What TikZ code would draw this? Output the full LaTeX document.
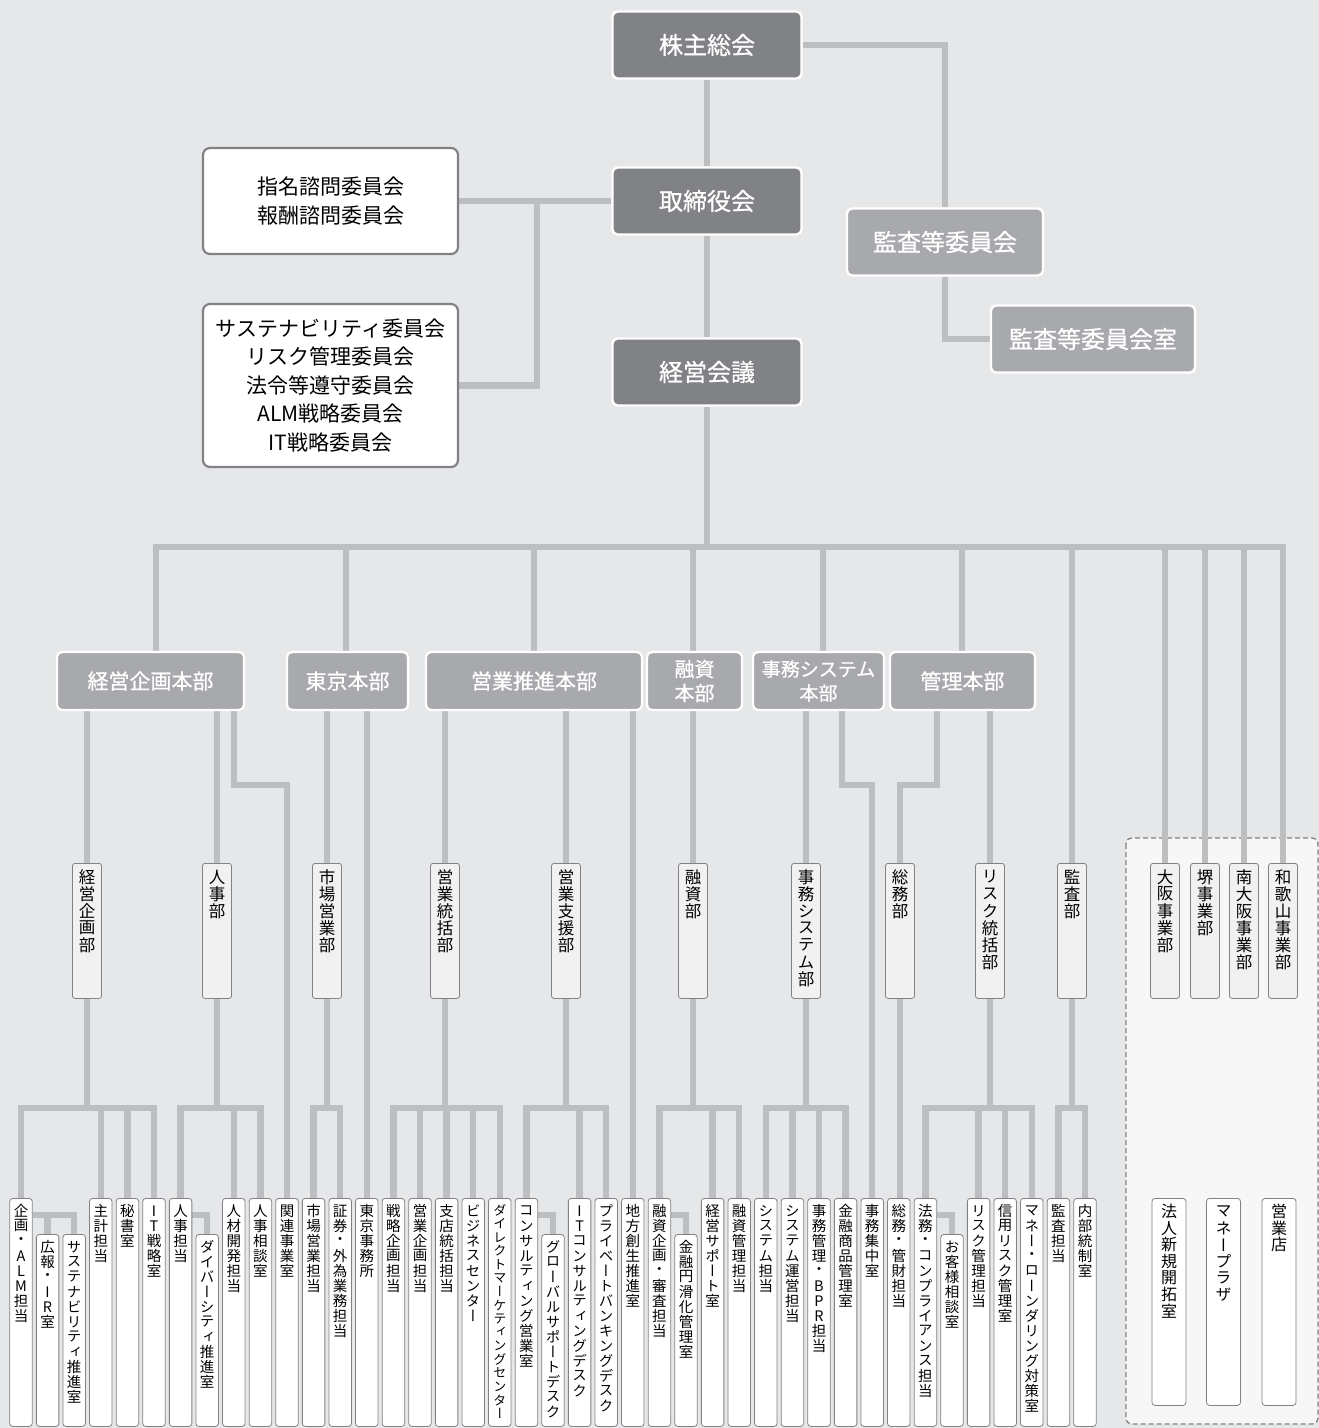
\documentclass[tikz,border=0pt]{standalone}
\usepackage{fontspec}
\setmainfont{Noto Sans CJK JP}
\newfontfamily\vfont[RawFeature=+vert]{Noto Sans CJK JP}
\newfontfamily\medfont[FakeBold=0.8]{Noto Sans CJK JP}
\usetikzlibrary{positioning, backgrounds}

\definecolor{bgcol}{HTML}{E6E7E8}
\definecolor{linecol}{HTML}{BCBEC0}
\definecolor{topcol}{HTML}{808285}
\definecolor{midcol}{HTML}{A7A9AC}
\definecolor{edgecol}{HTML}{808285}
\definecolor{deptcol}{HTML}{F1F1F2}
\definecolor{areacol}{HTML}{F7F7F7}

\newlength\vth
\makeatletter
\newcommand\vt[1]{\vbox to \vth{\offinterlineskip\vt@#1\@nil\vss}}
\def\vt@#1{\ifx#1\@nil\else\hbox to 1em{\hss\vbox to 1.035em{\vss\hbox{#1}\vss}\hss}\expandafter\vt@\fi}
\makeatother

\begin{document}
\begin{tikzpicture}[x=1pt, y=-1pt,
        conn/.style={draw=linecol, line width=6.5pt},
        boxlen/.code={\setlength\vth{#1}},
        topbox/.style={fill=topcol, draw=white, line width=2.4pt, rounded corners=5pt, text=white, minimum width=189pt, minimum height=67pt, font=\medfont\fontsize{24}{28}\selectfont},
        midbox/.style={topbox, fill=midcol},
        cmt/.style={fill=white, draw=edgecol, line width=2.2pt, rounded corners=7pt, minimum width=255pt, align=center, font=\fontsize{21}{29}\selectfont},
        hq/.style={fill=midcol, draw=white, line width=2.2pt, rounded corners=5pt, text=white, minimum height=58pt, align=center, inner sep=2pt, font=\medfont\fontsize{21}{24}\selectfont},
        dept/.style={fill=deptcol, draw=edgecol, line width=0.8pt, rounded corners=2.5pt, minimum width=29pt, inner xsep=0pt, inner ysep=5pt, anchor=north, boxlen=125pt, font=\vfont\fontsize{16.5}{17}\selectfont},
        unit/.style={fill=white, draw=edgecol, line width=0.8pt, rounded corners=3pt, minimum width=22.5pt, inner xsep=0pt, inner ysep=5pt, anchor=north, boxlen=218pt, font=\vfont\fontsize{14.5}{15}\selectfont},
        sunit/.style={unit, boxlen=182pt},
        branch/.style={unit, minimum width=34pt, boxlen=197pt, font=\vfont\fontsize{16}{17}\selectfont},
        area/.style={fill=areacol, draw=edgecol, line width=1.3pt, dash pattern=on 5pt off 3pt, rounded corners=6pt}]

        \useasboundingbox (0,0) rectangle (1319,1428);

        \node[topbox] (kabunushi) at (707,45) {株主総会};
        \node[topbox] (torishimari) at (707,201) {取締役会};
        \node[topbox] (keieikaigi) at (707,372) {経営会議};
        \node[midbox, minimum width=196pt] (kansa) at (945,242) {監査等委員会};
        \node[midbox, minimum width=204pt] (kansashitsu) at (1093,339) {監査等委員会室};

        \node[cmt, minimum height=106pt] (shimei) at (330.5,201) {指名諮問委員会\\報酬諮問委員会};
        \node[cmt, minimum height=163pt, font=\fontsize{21}{28.5}\selectfont] (iinkai) at (330.5,385.5) {サステナビリティ委員会\\リスク管理委員会\\法令等遵守委員会\\ALM戦略委員会\\IT戦略委員会};

        \node[hq, minimum width=187pt] (kikakuHQ) at (150.5,681) {経営企画本部};
        \node[hq, minimum width=121pt] (tokyoHQ) at (347.5,681) {東京本部};
        \node[hq, minimum width=216pt] (eigyoHQ) at (534,681) {営業推進本部};
        \node[hq, minimum width=95pt, font=\medfont\fontsize{20}{24}\selectfont] (yushiHQ) at (694.5,681) {融資\\本部};
        \node[hq, minimum width=131pt, font=\medfont\fontsize{19}{24}\selectfont] (jimuHQ) at (818.5,681) {事務システム\\本部};
        \node[hq, minimum width=145pt] (kanriHQ) at (962.5,681) {管理本部};

        \node[dept] (keikakuD) at (87,863) {\vt{経営企画部}};
        \node[dept] (jinjiD) at (217,863) {\vt{人事部}};
        \node[dept] (shijoD) at (327,863) {\vt{市場営業部}};
        \node[dept] (eigyotoD) at (445,863) {\vt{営業統括部}};
        \node[dept] (eigyoshiD) at (566,863) {\vt{営業支援部}};
        \node[dept] (yushiD) at (693,863) {\vt{融資部}};
        \node[dept] (jimuD) at (806,863) {\vt{事務システム部}};
        \node[dept] (somuD) at (900,863) {\vt{総務部}};
        \node[dept] (riskD) at (990,863) {\vt{リスク統括部}};
        \node[dept] (kansaD) at (1072,863) {\vt{監査部}};
        \node[dept] (osakaD) at (1165,863) {\vt{大阪事業部}};
        \node[dept] (sakaiD) at (1205,863) {\vt{堺事業部}};
        \node[dept] (minamiD) at (1244,863) {\vt{南大阪事業部}};
        \node[dept] (wakaD) at (1283,863) {\vt{和歌山事業部}};

        \node[unit] (kikakuALM) at (21,1198) {\vt{企画・ALM担当}};
        \node[sunit] (koho) at (47.6,1234) {\vt{広報・IR室}};
        \node[sunit] (sustain) at (74.2,1234) {\vt{サステナビリティ推進室}};
        \node[unit] (shukei) at (100.8,1198) {\vt{主計担当}};
        \node[unit] (hisho) at (127.4,1198) {\vt{秘書室}};
        \node[unit] (itsenryaku) at (154,1198) {\vt{IT戦略室}};
        \node[unit] (jinji) at (180.6,1198) {\vt{人事担当}};
        \node[sunit] (diversity) at (207.2,1234) {\vt{ダイバーシティ推進室}};
        \node[unit] (jinzai) at (233.8,1198) {\vt{人材開発担当}};
        \node[unit] (jinjisodan) at (260.4,1198) {\vt{人事相談室}};
        \node[unit] (kanren) at (287,1198) {\vt{関連事業室}};
        \node[unit] (shijo) at (313.6,1198) {\vt{市場営業担当}};
        \node[unit] (shoken) at (340.2,1198) {\vt{証券・外為業務担当}};
        \node[unit] (tokyojimu) at (366.8,1198) {\vt{東京事務所}};
        \node[unit] (senryaku) at (393.4,1198) {\vt{戦略企画担当}};
        \node[unit] (eigyokikaku) at (420,1198) {\vt{営業企画担当}};
        \node[unit] (shiten) at (446.6,1198) {\vt{支店統括担当}};
        \node[unit] (business) at (473.2,1198) {\vt{ビジネスセンター}};
        \node[unit, font=\vfont\fontsize{13.1}{14}\selectfont] (direct) at (499.8,1198) {\vt{ダイレクトマーケティングセンター}};
        \node[unit] (consul) at (526.4,1198) {\vt{コンサルティング営業室}};
        \node[sunit] (global) at (553,1234) {\vt{グローバルサポートデスク}};
        \node[unit] (itconsul) at (579.6,1198) {\vt{ITコンサルティングデスク}};
        \node[unit] (private) at (606.2,1198) {\vt{プライベートバンキングデスク}};
        \node[unit] (chiho) at (632.8,1198) {\vt{地方創生推進室}};
        \node[unit] (yushikikaku) at (659.4,1198) {\vt{融資企画・審査担当}};
        \node[sunit] (enkatsu) at (686,1234) {\vt{金融円滑化管理室}};
        \node[unit] (support) at (712.6,1198) {\vt{経営サポート室}};
        \node[unit] (yushikanri) at (739.2,1198) {\vt{融資管理担当}};
        \node[unit] (system) at (765.8,1198) {\vt{システム担当}};
        \node[unit] (unei) at (792.4,1198) {\vt{システム運営担当}};
        \node[unit] (bpr) at (819,1198) {\vt{事務管理・BPR担当}};
        \node[unit] (shohin) at (845.6,1198) {\vt{金融商品管理室}};
        \node[unit] (shuchu) at (872.2,1198) {\vt{事務集中室}};
        \node[unit] (kanzai) at (898.8,1198) {\vt{総務・管財担当}};
        \node[unit] (homu) at (925.4,1198) {\vt{法務・コンプライアンス担当}};
        \node[sunit] (okyaku) at (952,1234) {\vt{お客様相談室}};
        \node[unit] (riskkanri) at (978.6,1198) {\vt{リスク管理担当}};
        \node[unit] (shinyo) at (1005.2,1198) {\vt{信用リスク管理室}};
        \node[unit] (aml) at (1031.8,1198) {\vt{マネー・ローンダリング対策室}};
        \node[unit] (kansatanto) at (1058.4,1198) {\vt{監査担当}};
        \node[unit] (naibu) at (1085,1198) {\vt{内部統制室}};

        \node[branch] (hojin) at (1169,1198) {\vt{法人新規開拓室}};
        \node[branch] (plaza) at (1223.5,1198) {\vt{マネープラザ}};
        \node[branch] (eigyoten) at (1279,1198) {\vt{営業店}};

        \begin{scope}[on background layer]
        \fill[bgcol] (0,0) rectangle (1319,1428);
        \draw[area] (1126,838) rectangle (1318,1424);

        \coordinate (topbus) at (0,547);
        \coordinate (elbow) at (0,785);
        \coordinate (lowbus) at (0,1108);
        \coordinate (subbus) at (0,1215);

        \draw[conn] (kabunushi) -- (torishimari);
        \draw[conn] (torishimari) -- (keieikaigi);
        \draw[conn] (kabunushi.east) -| (kansa.north);
        \draw[conn] (kansa.south) |- (kansashitsu.west);
        \draw[conn] (torishimari.west) -- (shimei.east);
        \draw[conn] (537,0 |- shimei.east) |- (iinkai.east);

        \draw[conn] (keieikaigi.south) -- (keieikaigi.south |- topbus);
        \draw[conn] (156,0 |- kikakuHQ.north) |- (wakaD.north |- topbus) -- (wakaD.north);
        \draw[conn] (346,0 |- topbus) -- (346,0 |- tokyoHQ.north);
        \draw[conn] (534,0 |- topbus) -- (eigyoHQ.north);
        \draw[conn] (693,0 |- topbus) -- (693,0 |- yushiHQ.north);
        \draw[conn] (823,0 |- topbus) -- (823,0 |- jimuHQ.north);
        \draw[conn] (962,0 |- topbus) -- (962,0 |- kanriHQ.north);
        \draw[conn] (kansaD.north |- topbus) -- (kansaD.north);
        \draw[conn] (osakaD.north |- topbus) -- (osakaD.north);
        \draw[conn] (sakaiD.north |- topbus) -- (sakaiD.north);
        \draw[conn] (minamiD.north |- topbus) -- (minamiD.north);

        \draw[conn] (keikakuD.north |- kikakuHQ.south) -- (keikakuD.north);
        \draw[conn] (jinjiD.north |- kikakuHQ.south) -- (jinjiD.north);
        \draw[conn] (234,0 |- kikakuHQ.south) |- (kanren.north |- elbow) -- (kanren.north);
        \draw[conn] (shijoD.north |- tokyoHQ.south) -- (shijoD.north);
        \draw[conn] (tokyojimu.north |- tokyoHQ.south) -- (tokyojimu.north);
        \draw[conn] (eigyotoD.north |- eigyoHQ.south) -- (eigyotoD.north);
        \draw[conn] (eigyoshiD.north |- eigyoHQ.south) -- (eigyoshiD.north);
        \draw[conn] (chiho.north |- eigyoHQ.south) -- (chiho.north);
        \draw[conn] (yushiD.north |- yushiHQ.south) -- (yushiD.north);
        \draw[conn] (jimuD.north |- jimuHQ.south) -- (jimuD.north);
        \draw[conn] (842,0 |- jimuHQ.south) |- (shuchu.north |- elbow) -- (shuchu.north);
        \draw[conn] (937,0 |- kanriHQ.south) |- (somuD.north |- elbow) -- (somuD.north);
        \draw[conn] (riskD.north |- kanriHQ.south) -- (riskD.north);

        \draw[conn] (keikakuD.south) -- (keikakuD.south |- lowbus);
        \draw[conn] (kikakuALM.north) |- (itsenryaku.north |- lowbus) -- (itsenryaku.north);
        \draw[conn] (shukei.north) -- (shukei.north |- lowbus);
        \draw[conn] (hisho.north) -- (hisho.north |- lowbus);
        \draw[conn] (kikakuALM.east |- subbus) -| (sustain.north);
        \draw[conn] (koho.north) -- (koho.north |- subbus);

        \draw[conn] (jinjiD.south) -- (jinjiD.south |- lowbus);
        \draw[conn] (jinji.north) |- (jinjisodan.north |- lowbus) -- (jinjisodan.north);
        \draw[conn] (jinzai.north) -- (jinzai.north |- lowbus);
        \draw[conn] (jinji.east |- subbus) -| (diversity.north);

        \draw[conn] (shijoD.south) -- (shijoD.south |- lowbus);
        \draw[conn] (shijo.north) |- (shoken.north |- lowbus) -- (shoken.north);

        \draw[conn] (eigyotoD.south) -- (eigyotoD.south |- lowbus);
        \draw[conn] (senryaku.north) |- (direct.north |- lowbus) -- (direct.north);
        \draw[conn] (eigyokikaku.north) -- (eigyokikaku.north |- lowbus);
        \draw[conn] (shiten.north) -- (shiten.north |- lowbus);
        \draw[conn] (business.north) -- (business.north |- lowbus);

        \draw[conn] (eigyoshiD.south) -- (eigyoshiD.south |- lowbus);
        \draw[conn] (consul.north) |- (private.north |- lowbus) -- (private.north);
        \draw[conn] (itconsul.north) -- (itconsul.north |- lowbus);
        \draw[conn] (consul.east |- subbus) -| (global.north);

        \draw[conn] (yushiD.south) -- (yushiD.south |- lowbus);
        \draw[conn] (yushikikaku.north) |- (yushikanri.north |- lowbus) -- (yushikanri.north);
        \draw[conn] (support.north) -- (support.north |- lowbus);
        \draw[conn] (yushikikaku.east |- subbus) -| (enkatsu.north);

        \draw[conn] (jimuD.south) -- (jimuD.south |- lowbus);
        \draw[conn] (system.north) |- (shohin.north |- lowbus) -- (shohin.north);
        \draw[conn] (unei.north) -- (unei.north |- lowbus);
        \draw[conn] (bpr.north) -- (bpr.north |- lowbus);

        \draw[conn] (somuD.south) -- (somuD.south |- kanzai.north);

        \draw[conn] (riskD.south) -- (riskD.south |- lowbus);
        \draw[conn] (homu.north) |- (aml.north |- lowbus) -- (aml.north);
        \draw[conn] (riskkanri.north) -- (riskkanri.north |- lowbus);
        \draw[conn] (shinyo.north) -- (shinyo.north |- lowbus);
        \draw[conn] (homu.east |- subbus) -| (okyaku.north);

        \draw[conn] (kansaD.south) -- (kansaD.south |- lowbus);
        \draw[conn] (kansatanto.north) |- (naibu.north |- lowbus) -- (naibu.north);
        \end{scope}

    \end{tikzpicture}
\end{document}
